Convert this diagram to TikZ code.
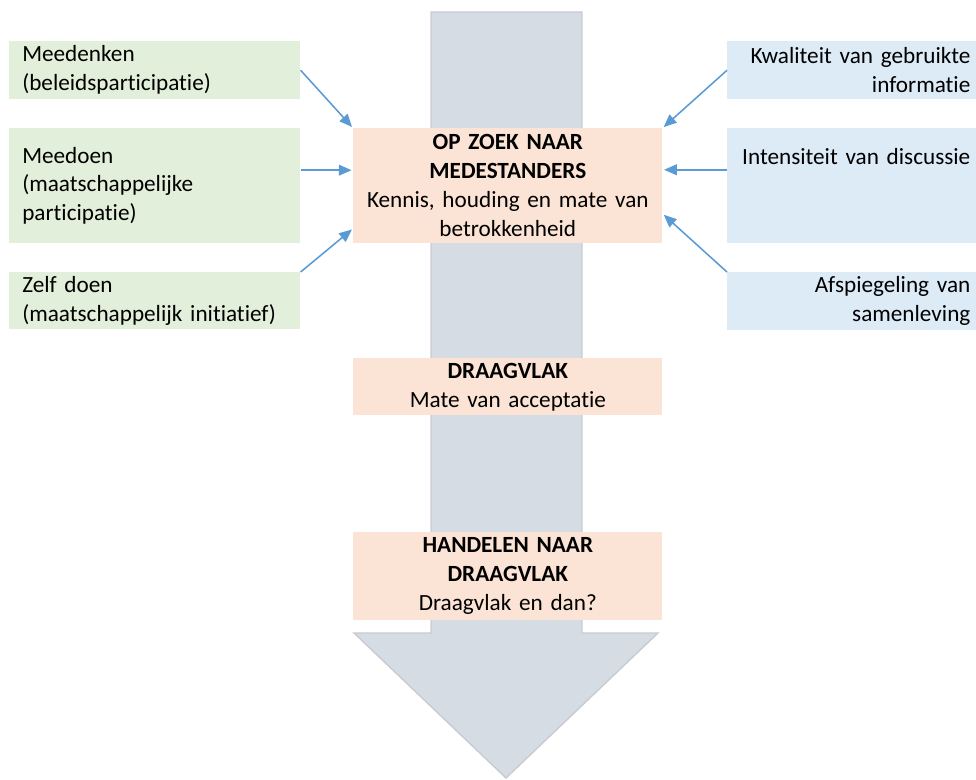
\documentclass[tikz,border=0pt]{standalone}
\usepackage{fontspec}
\setmainfont{Carlito}[Ligatures=NoCommon, WordSpace=0.92]
\usepackage{tikz}
\usetikzlibrary{arrows.meta}
\definecolor{vakgroen}{HTML}{E2EFDA}
\definecolor{vakblauw}{HTML}{DDEBF7}
\definecolor{vakroze}{HTML}{FBE4D5}
\definecolor{pijlgrijs}{HTML}{D6DCE4}
\definecolor{randgrijs}{HTML}{C8CCD2}
\definecolor{lijnblauw}{HTML}{5B9BD5}

\begin{document}
\begin{tikzpicture}[
      x=0.025cm, y=-0.025cm,
      every node/.style={font=\fontsize{16.5}{20.6}\selectfont, inner ysep=0pt},
      groen/.style ={fill=vakgroen, anchor=north west, align=left, text width=6.625cm, inner xsep=0.325cm},
      blauw/.style ={fill=vakblauw, anchor=north west, align=right, text width=5.925cm, inner xsep=0.15cm},
      roze/.style  ={fill=vakroze, anchor=north west, align=center, text width=7.225cm, inner xsep=0.25cm},
      link/.style  ={draw=lijnblauw, line width=1.1pt, -{Triangle[length=0.32cm, width=0.27cm]}, shorten >=1pt}
    ]
    \useasboundingbox (0,0) rectangle (976,780);

    % grote pijl op de achtergrond
    \filldraw [fill=pijlgrijs, draw=randgrijs, line width=1pt]
      (431,12) -- (582,12) -- (582,633) -- (658,633) -- (506,778) -- (354,633) -- (431,633) -- cycle;

    \node [groen, minimum height=1.45cm] (meedenken) at (9,41) {Meedenken\\(beleidsparticipatie)};
    \node [groen, minimum height=2.875cm] (meedoen) at (9,128) {Meedoen\\(maatschappelijke\\participatie)};
    \node [groen, minimum height=1.425cm] (zelfdoen) at (9,272) {Zelf doen\\(maatschappelijk initiatief)};

    \node [blauw, minimum height=1.45cm] (kwaliteit) at (727,41) {Kwaliteit van gebruikte\\informatie};
    \node [blauw, minimum height=2.875cm] (intensiteit) at (727,128) {Intensiteit van discussie\\\mbox{}\\\mbox{}};
    \node [blauw, minimum height=1.45cm] (afspiegeling) at (727,272) {Afspiegeling van\\samenleving};

    \node [roze, minimum height=2.875cm] (zoek) at (353,128) {\textbf{OP ZOEK NAAR}\\\textbf{MEDESTANDERS}\\Kennis, houding en mate van\\betrokkenheid};
    \node [roze, minimum height=1.425cm] (draagvlak) at (353,358) {\textbf{DRAAGVLAK}\\Mate van acceptatie};
    \node [roze, minimum height=2.2cm] (handelen) at (353,532) {\textbf{HANDELEN NAAR}\\\textbf{DRAAGVLAK}\\Draagvlak en dan?};

    \draw [link] (meedenken.east) -- (zoek.north west);
    \draw [link] ([yshift=0.39cm]meedoen.east) -- ([yshift=0.39cm]zoek.west);
    \draw [link] (zelfdoen.north east) -- ([yshift=0.375cm]zoek.south west);
    \draw [link] (kwaliteit.west) -- (zoek.north east);
    \draw [link] ([yshift=0.4cm]intensiteit.west) -- ([yshift=0.4cm]zoek.east);
    \draw [link] (afspiegeling.north west) -- ([yshift=-0.7cm]zoek.east);
  \end{tikzpicture}
\end{document}
